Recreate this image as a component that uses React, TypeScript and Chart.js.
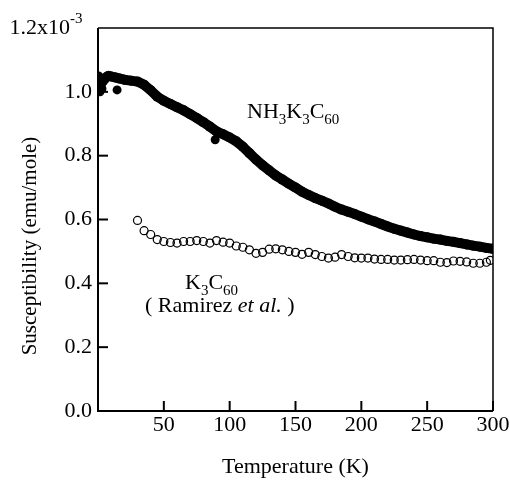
import React, { useEffect, useRef } from "react";
import { Chart, registerables } from "chart.js";
Chart.register(...registerables);

// NH3K3C60 (filled dots), susceptibility in units of 1e-3 emu/mole
const nh3T = [3, 6, 8, 10, 13, 16, 20, 25, 30, 35, 40, 45, 50, 55, 60, 65, 70, 75, 80, 85, 90, 95, 100, 105, 110, 115, 120, 125, 130, 135, 140, 145, 150, 155, 160, 165, 170, 175, 180, 185, 190, 195, 200, 205, 210, 215, 220, 225, 230, 235, 240, 245, 250, 255, 260, 265, 270, 275, 280, 285, 290, 295, 300];
const nh3Chi = [1.03, 1.045, 1.05, 1.048, 1.045, 1.042, 1.038, 1.035, 1.032, 1.022, 1.005, 0.985, 0.972, 0.962, 0.952, 0.942, 0.93, 0.918, 0.905, 0.891, 0.876, 0.867, 0.857, 0.845, 0.828, 0.808, 0.788, 0.77, 0.754, 0.738, 0.725, 0.712, 0.7, 0.687, 0.677, 0.667, 0.659, 0.65, 0.64, 0.631, 0.624, 0.617, 0.609, 0.601, 0.594, 0.586, 0.578, 0.571, 0.565, 0.559, 0.553, 0.548, 0.544, 0.54, 0.537, 0.533, 0.53, 0.526, 0.522, 0.518, 0.515, 0.511, 0.508];
// isolated NH3K3C60 points
const nh3OutT = [0.5, 1, 1.5, 3, 14.5, 89];
const nh3OutChi = [1.05, 1.02, 1.0, 1.01, 1.006, 0.85];
// K3C60 (open circles, Ramirez et al.)
const k3T = [30, 35, 40, 45, 50, 55, 60, 65, 70, 75, 80, 85, 90, 95, 100, 105, 110, 115, 120, 125, 130, 135, 140, 145, 150, 155, 160, 165, 170, 175, 180, 185, 190, 195, 200, 205, 210, 215, 220, 225, 230, 235, 240, 245, 250, 255, 260, 265, 270, 275, 280, 285, 290, 295, 298];
const k3Chi = [0.597, 0.565, 0.553, 0.537, 0.531, 0.528, 0.526, 0.531, 0.531, 0.534, 0.531, 0.526, 0.534, 0.529, 0.526, 0.517, 0.513, 0.505, 0.494, 0.497, 0.507, 0.508, 0.505, 0.5, 0.497, 0.491, 0.497, 0.49, 0.484, 0.479, 0.482, 0.49, 0.484, 0.48, 0.479, 0.479, 0.476, 0.475, 0.475, 0.473, 0.473, 0.474, 0.475, 0.473, 0.471, 0.471, 0.466, 0.465, 0.47, 0.469, 0.467, 0.463, 0.463, 0.466, 0.472];

const xTicks = [50, 100, 150, 200, 250, 300];
const xTickLabels = ["50", "100", "150", "200", "250", "300"];
const yTicks = [0, 0.2, 0.4, 0.6, 0.8, 1.0];
const yTickLabels = ["0.0", "0.2", "0.4", "0.6", "0.8", "1.0"];
const yTopValue = 1.2;
const yTopLabel = "1.2x10";
const yTopExp = "-3";
const xTitle = "Temperature (K)";
const yTitle = "Susceptibility (emu/mole)";

const FONT = '"Liberation Serif", "Times New Roman", serif';

type Seg = { t: string; k?: "sub" | "sup" | "it" };

function drawRich(ctx: CanvasRenderingContext2D, segs: Seg[], x: number, y: number, size: number) {
  let cx = x;
  ctx.textAlign = "left";
  ctx.textBaseline = "alphabetic";
  for (const s of segs) {
    let dy = 0;
    if (s.k === "sub") {
      ctx.font = `${Math.round(size * 0.7)}px ${FONT}`;
      dy = size * 0.27;
    } else if (s.k === "sup") {
      ctx.font = `${Math.round(size * 0.7)}px ${FONT}`;
      dy = -size * 0.4;
    } else if (s.k === "it") {
      ctx.font = `italic ${size}px ${FONT}`;
    } else {
      ctx.font = `${size}px ${FONT}`;
    }
    ctx.fillText(s.t, cx, y + dy);
    cx += ctx.measureText(s.t).width;
  }
}

const framePlugin = {
  id: "framePlugin",
  afterDraw(chart: any) {
    const { ctx, chartArea, scales } = chart;
    const xs = scales.x;
    const ys = scales.y;
    const { left, right, top, bottom } = chartArea;
    ctx.save();
    ctx.strokeStyle = "#000";
    ctx.fillStyle = "#000";
    // frame
    ctx.lineWidth = 2;
    ctx.beginPath();
    ctx.moveTo(left, top);
    ctx.lineTo(left, bottom);
    ctx.lineTo(right, bottom);
    ctx.stroke();
    ctx.lineWidth = 1.5;
    ctx.beginPath();
    ctx.moveTo(left, top);
    ctx.lineTo(right, top);
    ctx.lineTo(right, bottom);
    ctx.stroke();
    // ticks inward
    ctx.lineWidth = 2;
    for (const v of yTicks) {
      const py = ys.getPixelForValue(v);
      ctx.beginPath();
      ctx.moveTo(left, py);
      ctx.lineTo(left + 10, py);
      ctx.stroke();
    }
    for (const v of xTicks) {
      const px = xs.getPixelForValue(v);
      ctx.beginPath();
      ctx.moveTo(px, bottom);
      ctx.lineTo(px, bottom - 10);
      ctx.stroke();
    }
    // tick labels
    ctx.font = `22px ${FONT}`;
    ctx.textAlign = "right";
    ctx.textBaseline = "middle";
    yTicks.forEach((v, i) => {
      ctx.fillText(yTickLabels[i], left - 6, ys.getPixelForValue(v));
    });
    const topPy = ys.getPixelForValue(yTopValue);
    ctx.fillText(yTopLabel, 70, topPy);
    ctx.font = `15px ${FONT}`;
    ctx.textAlign = "left";
    ctx.fillText(yTopExp, 70, topPy - 9);
    ctx.font = `22px ${FONT}`;
    ctx.textAlign = "center";
    xTicks.forEach((v, i) => {
      ctx.fillText(xTickLabels[i], xs.getPixelForValue(v), bottom + 14);
    });
    // titles
    ctx.fillText(xTitle, (left + right) / 2, 467);
    ctx.save();
    ctx.translate(30, 246);
    ctx.rotate(-Math.PI / 2);
    ctx.font = `21px ${FONT}`;
    ctx.fillText(yTitle, 0, 0);
    ctx.restore();
    // annotations
    drawRich(ctx, [{ t: "NH" }, { t: "3", k: "sub" }, { t: "K" }, { t: "3", k: "sub" }, { t: "C" }, { t: "60", k: "sub" }], 247, 118, 22);
    drawRich(ctx, [{ t: "K" }, { t: "3", k: "sub" }, { t: "C" }, { t: "60", k: "sub" }], 185, 289, 22);
    drawRich(ctx, [{ t: "( Ramirez " }, { t: "et al.", k: "it" }, { t: " )" }], 145, 312, 22);
    ctx.restore();
  },
};

export default function App() {
  const ref = useRef<HTMLCanvasElement | null>(null);
  useEffect(() => {
    document.body.style.margin = "0";
    const canvas = ref.current;
    if (!canvas) return;
    const chart = new Chart(canvas, {
      type: "scatter",
      data: {
        datasets: [
          {
            label: "K3C60",
            data: k3T.map((t, i) => ({ x: t, y: k3Chi[i] })),
            showLine: false,
            pointRadius: 4,
            pointBorderWidth: 1.2,
            pointBorderColor: "#000",
            pointBackgroundColor: "rgba(0,0,0,0)",
          },
          {
            label: "NH3K3C60",
            data: nh3T.map((t, i) => ({ x: t, y: nh3Chi[i] })),
            showLine: true,
            borderColor: "#000",
            borderWidth: 10,
            borderCapStyle: "round",
            borderJoinStyle: "round",
            pointRadius: 5,
            pointBorderWidth: 0,
            pointBackgroundColor: "#000",
          },
          {
            label: "NH3K3C60 outliers",
            data: nh3OutT.map((t, i) => ({ x: t, y: nh3OutChi[i] })),
            showLine: false,
            pointRadius: 4.5,
            pointBorderWidth: 0,
            pointBackgroundColor: "#000",
          },
        ],
      },
      options: {
        responsive: false,
        animation: false,
        layout: { padding: { left: 98, right: 17, top: 28, bottom: 72 } },
        plugins: { legend: { display: false }, tooltip: { enabled: false } },
        scales: {
          x: { type: "linear", display: false, min: 0, max: 300 },
          y: { type: "linear", display: false, min: 0, max: 1.2 },
        },
      },
      plugins: [framePlugin],
    } as any);
    return () => chart.destroy();
  }, []);
  return <canvas ref={ref} width={510} height={483} style={{ display: "block" }} />;
}
